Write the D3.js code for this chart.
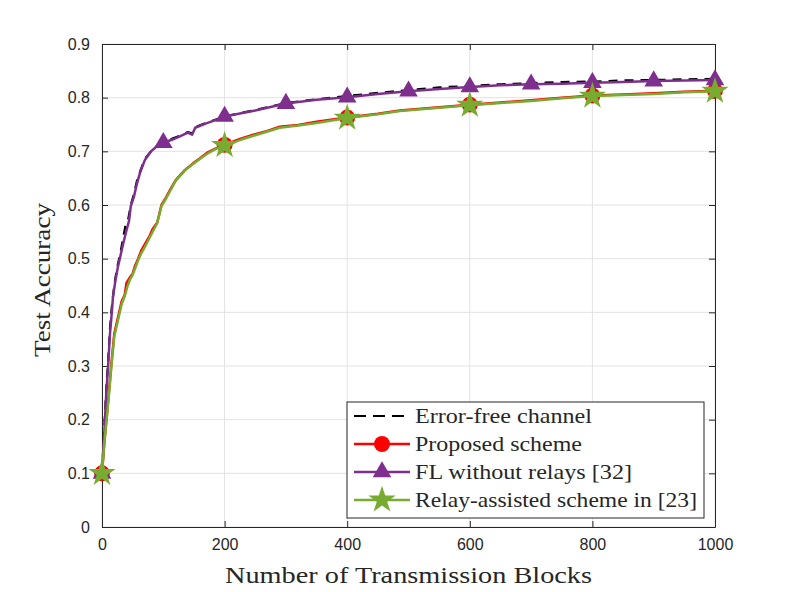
<!DOCTYPE html>
<html lang="en">
<head>
<meta charset="utf-8">
<title>Test accuracy vs transmission blocks</title>
<script src="https://d3js.org/d3.v7.min.js"></script>
<style>
  body { margin: 0; background: #fff; }
  .axis text { font-family: "Liberation Sans", Arial, sans-serif; font-size: 16px; fill: #262626; }
  .lbl { font-family: "Liberation Serif", "Times New Roman", serif; fill: #262626; }
</style>
</head>
<body>
<div id="chart"></div>
<script>
// x ticks / y ticks
var xTicks = [0, 200, 400, 600, 800, 1000]
var yTicks = [0, 0.1, 0.2, 0.3, 0.4, 0.5, 0.6, 0.7, 0.8, 0.9]

// Error-free channel (black dashed)
var errorFree = [[0,0.10],[4,0.19],[7,0.26],[10,0.31],[13,0.37],[16,0.41],[19,0.44],[22,0.465],[26,0.49],[29,0.505],
  [34,0.535],[38,0.56],[43,0.575],[47,0.60],[52,0.62],[57,0.645],[62,0.662],[70,0.686],[80,0.70],[90,0.711],
  [100,0.717],[115,0.724],[127,0.729],[140,0.736],[147,0.733],[152,0.745],[170,0.753],[200,0.765],[250,0.777],
  [300,0.790],[350,0.797],[400,0.803],[450,0.809],[500,0.814],[550,0.819],[600,0.822],[650,0.825],[700,0.827],
  [750,0.829],[800,0.830],[850,0.832],[900,0.833],[950,0.834],[1000,0.835]]

// Proposed scheme (red)
var proposed = [[0,0.10],[4,0.16],[8,0.21],[12,0.26],[15,0.30],[20,0.36],[27,0.395],[32,0.42],[37,0.432],[40,0.455],
  [46,0.466],[50,0.472],[54,0.487],[59,0.50],[64,0.515],[70,0.527],[78,0.543],[83,0.556],[90,0.567],[97,0.60],
  [105,0.615],[112,0.63],[120,0.646],[135,0.665],[149,0.678],[160,0.687],[171,0.697],[185,0.705],[200,0.712],
  [225,0.723],[247,0.731],[270,0.738],[290,0.746],[320,0.749],[350,0.755],[400,0.763],[450,0.770],[486,0.776],
  [550,0.782],[600,0.787],[650,0.791],[700,0.795],[750,0.800],[800,0.804],[850,0.806],[900,0.808],[950,0.811],[1000,0.813]]

// FL without relays [32] (purple)
var noRelay = [[0,0.10],[4,0.18],[7,0.25],[10,0.30],[13,0.36],[16,0.40],[18,0.43],[22,0.46],[26,0.485],[29,0.50],
  [35,0.53],[40,0.553],[44,0.57],[47,0.598],[52,0.615],[57,0.64],[62,0.66],[70,0.684],[80,0.70],[90,0.71],
  [100,0.716],[115,0.722],[127,0.728],[140,0.735],[147,0.731],[152,0.744],[170,0.752],[192,0.761],[200,0.765],
  [250,0.776],[300,0.789],[350,0.796],[400,0.801],[450,0.807],[500,0.812],[550,0.816],[600,0.820],[650,0.823],
  [700,0.825],[750,0.826],[800,0.828],[850,0.829],[900,0.831],[950,0.832],[1000,0.833]]

// Relay-assisted scheme in [23] (green)
var relayAssisted = [[0,0.10],[4,0.16],[8,0.205],[12,0.255],[15,0.295],[20,0.355],[27,0.39],[32,0.415],[37,0.43],
  [42,0.45],[46,0.462],[50,0.47],[55,0.485],[59,0.497],[64,0.51],[70,0.522],[78,0.54],[84,0.553],[90,0.566],
  [97,0.598],[105,0.613],[112,0.628],[120,0.645],[135,0.664],[149,0.677],[160,0.686],[171,0.695],[185,0.704],
  [200,0.711],[225,0.721],[247,0.729],[270,0.737],[290,0.744],[320,0.748],[350,0.753],[400,0.762],[450,0.769],
  [486,0.775],[550,0.781],[600,0.786],[650,0.790],[700,0.794],[750,0.799],[800,0.803],[850,0.805],[900,0.807],
  [950,0.810],[1000,0.812]]

var markEvery100 = [0,100,200,300,400,500,600,700,800,900,1000]
var markEvery200 = [0,200,400,600,800,1000]

var legendNames = ["Error-free channel", "Proposed scheme", "FL without relays [32]", "Relay-assisted scheme in [23]"]

var w = 789, h = 592
var svg = d3.select("#chart").append("svg").attr("width", w).attr("height", h)

var x = d3.scaleLinear().domain([0, 1000]).range([102, 715])
var y = d3.scaleLinear().domain([0, 0.9]).range([527, 44])

// grid
svg.append("g").selectAll("line").data(xTicks).enter().append("line")
  .attr("x1", d => x(d)).attr("x2", d => x(d)).attr("y1", y(0)).attr("y2", y(0.9))
  .attr("stroke", "#e3e3e3").attr("stroke-width", 1)
svg.append("g").selectAll("line").data(yTicks).enter().append("line")
  .attr("y1", d => y(d)).attr("y2", d => y(d)).attr("x1", x(0)).attr("x2", x(1000))
  .attr("stroke", "#e3e3e3").attr("stroke-width", 1)

// axes (ticks inward, box on)
var tl = 6
svg.append("g").attr("class", "axis").attr("transform", "translate(0," + y(0) + ")")
  .call(d3.axisBottom(x).tickValues(xTicks).tickSizeInner(-tl).tickSizeOuter(0).tickPadding(12).tickFormat(d3.format("d")))
svg.append("g").attr("class", "axis").attr("transform", "translate(0," + y(0.9) + ")")
  .call(d3.axisTop(x).tickValues(xTicks).tickSizeInner(-tl).tickSizeOuter(0).tickFormat(""))
svg.append("g").attr("class", "axis").attr("transform", "translate(" + x(0) + ",0)")
  .call(d3.axisLeft(y).tickValues(yTicks).tickSizeInner(-tl).tickSizeOuter(0).tickPadding(12).tickFormat(d => d === 0 ? "0" : d3.format(".1f")(d)))
svg.append("g").attr("class", "axis").attr("transform", "translate(" + x(1000) + ",0)")
  .call(d3.axisRight(y).tickValues(yTicks).tickSizeInner(-tl).tickSizeOuter(0).tickFormat(""))
svg.selectAll(".axis path, .axis line").attr("stroke", "#262626")
svg.selectAll(".axis path").attr("stroke-width", 1)

var line = d3.line().x(d => x(d[0])).y(d => y(d[1]))

function valueAt(series, b) {
  var p = series.find(d => d[0] === b)
  return p ? p[1] : null
}

var series = [
  { data: errorFree, color: "#000000", width: 2.2, dash: "9,7", marks: [], symbol: null },
  { data: proposed, color: "#ff0000", width: 2.5, dash: null, marks: markEvery200, symbol: d3.symbolCircle, size: 200 },
  { data: noRelay, color: "#7e2f8e", width: 2.5, dash: null, marks: markEvery100, symbol: d3.symbolTriangle, size: 150 },
  { data: relayAssisted, color: "#77ac30", width: 2.5, dash: null, marks: markEvery200, symbol: d3.symbolStar, size: 230 }
]

series.forEach(function(s) {
  var g = svg.append("g")
  g.append("path").datum(s.data).attr("d", line)
    .attr("fill", "none").attr("stroke", s.color).attr("stroke-width", s.width)
    .attr("stroke-dasharray", s.dash).attr("stroke-linejoin", "round")
  if (s.symbol) {
    g.selectAll("path.m").data(s.marks).enter().append("path").attr("class", "m")
      .attr("d", d3.symbol().type(s.symbol).size(s.size))
      .attr("transform", d => "translate(" + x(d) + "," + y(valueAt(s.data, d)) + ")")
      .attr("fill", s.color)
  }
})

// legend
var lg = svg.append("g")
lg.append("rect").attr("x", 347).attr("y", 402).attr("width", 357).attr("height", 116)
  .attr("fill", "#fff").attr("stroke", "#262626").attr("stroke-width", 1)
var rowY = [416, 444, 472, 500]
var textW = [177, 167, 217, 282]
series.forEach(function(s, i) {
  lg.append("line").attr("x1", 354).attr("x2", 410).attr("y1", rowY[i]).attr("y2", rowY[i])
    .attr("stroke", s.color).attr("stroke-width", s.width).attr("stroke-dasharray", s.dash ? "12,7" : null)
  if (s.symbol) {
    lg.append("path").attr("d", d3.symbol().type(s.symbol).size(s.size))
      .attr("transform", "translate(382," + rowY[i] + ")").attr("fill", s.color)
  }
  lg.append("text").attr("class", "lbl").attr("x", 415).attr("y", rowY[i] + 7)
    .style("font-size", "21px").attr("textLength", textW[i]).attr("lengthAdjust", "spacingAndGlyphs")
    .text(legendNames[i])
})

// axis labels
svg.append("text").attr("class", "lbl").attr("x", 225).attr("y", 583)
  .style("font-size", "23px").attr("textLength", 367).attr("lengthAdjust", "spacingAndGlyphs")
  .text("Number of Transmission Blocks")
svg.append("text").attr("class", "lbl").attr("transform", "translate(50,357) rotate(-90)")
  .style("font-size", "23px").attr("textLength", 154).attr("lengthAdjust", "spacingAndGlyphs")
  .text("Test Accuracy")
</script>
</body>
</html>
